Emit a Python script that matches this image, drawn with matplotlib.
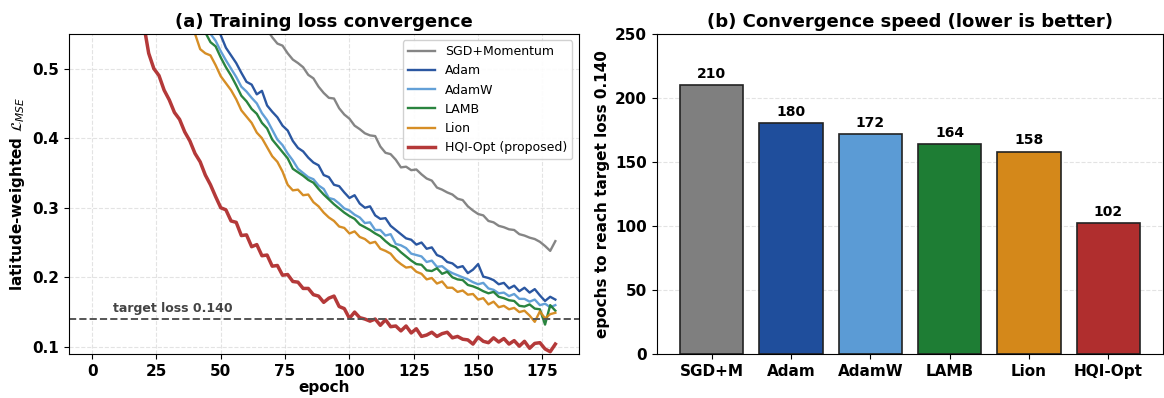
import numpy as np
import matplotlib
matplotlib.use("Agg")
import matplotlib.pyplot as plt

# ---- data -------------------------------------------------------------
epochs = np.arange(0, 181, 2)

sgd_loss = [1.30, 1.27, 1.24, 1.21, 1.18, 1.15, 1.12, 1.09, 1.06, 1.03,
            1.00, 0.975, 0.95, 0.925, 0.90, 0.875, 0.85, 0.83, 0.81, 0.79,
            0.77, 0.75, 0.73, 0.71, 0.69, 0.675, 0.66, 0.645, 0.63, 0.615,
            0.60, 0.590, 0.580, 0.566, 0.556, 0.545, 0.536, 0.533, 0.522, 0.513,
            0.508, 0.502, 0.491, 0.486, 0.474, 0.465, 0.458, 0.457, 0.443, 0.434,
            0.428, 0.418, 0.413, 0.407, 0.404, 0.403, 0.388, 0.379, 0.377, 0.369,
            0.358, 0.359, 0.354, 0.355, 0.348, 0.342, 0.339, 0.329, 0.326, 0.322,
            0.319, 0.313, 0.311, 0.302, 0.296, 0.291, 0.289, 0.281, 0.279, 0.274,
            0.272, 0.269, 0.268, 0.262, 0.260, 0.257, 0.255, 0.251, 0.245, 0.238,
            0.252]

adam_loss = [1.18, 1.14, 1.10, 1.06, 1.02, 0.99, 0.96, 0.93, 0.90, 0.87,
             0.845, 0.82, 0.795, 0.77, 0.745, 0.725, 0.705, 0.685, 0.665, 0.645,
             0.632, 0.616, 0.601, 0.586, 0.562, 0.548, 0.530, 0.519, 0.508, 0.494,
             0.481, 0.477, 0.463, 0.468, 0.447, 0.438, 0.430, 0.418, 0.411, 0.396,
             0.386, 0.381, 0.372, 0.365, 0.361, 0.347, 0.344, 0.333, 0.331, 0.322,
             0.314, 0.318, 0.306, 0.300, 0.302, 0.289, 0.284, 0.285, 0.274, 0.268,
             0.262, 0.256, 0.254, 0.247, 0.250, 0.241, 0.243, 0.232, 0.229, 0.222,
             0.220, 0.214, 0.216, 0.206, 0.211, 0.219, 0.201, 0.199, 0.196, 0.190,
             0.192, 0.184, 0.188, 0.180, 0.185, 0.178, 0.183, 0.174, 0.166, 0.172,
             0.168]

adamw_loss = [1.15, 1.11, 1.07, 1.03, 0.995, 0.96, 0.93, 0.90, 0.87, 0.84,
              0.815, 0.79, 0.765, 0.74, 0.715, 0.695, 0.675, 0.655, 0.635, 0.615,
              0.598, 0.583, 0.570, 0.550, 0.540, 0.525, 0.512, 0.500, 0.488, 0.474,
              0.467, 0.458, 0.450, 0.436, 0.426, 0.412, 0.398, 0.390, 0.378, 0.368,
              0.356, 0.350, 0.344, 0.341, 0.332, 0.327, 0.314, 0.312, 0.306, 0.299,
              0.296, 0.290, 0.286, 0.278, 0.279, 0.268, 0.268, 0.260, 0.262, 0.248,
              0.246, 0.242, 0.234, 0.232, 0.230, 0.222, 0.224, 0.215, 0.216, 0.210,
              0.206, 0.203, 0.200, 0.197, 0.193, 0.190, 0.192, 0.184, 0.182, 0.177,
              0.178, 0.173, 0.176, 0.169, 0.169, 0.165, 0.168, 0.160, 0.162, 0.157,
              0.160]

lamb_loss = [1.12, 1.08, 1.04, 1.00, 0.965, 0.93, 0.90, 0.87, 0.84, 0.81,
             0.785, 0.76, 0.735, 0.71, 0.685, 0.665, 0.645, 0.625, 0.605, 0.59,
             0.575, 0.562, 0.552, 0.538, 0.532, 0.516, 0.502, 0.490, 0.476, 0.461,
             0.453, 0.442, 0.435, 0.422, 0.414, 0.398, 0.389, 0.380, 0.371, 0.356,
             0.351, 0.346, 0.340, 0.336, 0.327, 0.319, 0.312, 0.305, 0.299, 0.293,
             0.288, 0.284, 0.276, 0.272, 0.268, 0.263, 0.259, 0.252, 0.246, 0.243,
             0.236, 0.230, 0.224, 0.219, 0.218, 0.210, 0.209, 0.213, 0.205, 0.208,
             0.200, 0.197, 0.196, 0.189, 0.187, 0.184, 0.180, 0.177, 0.179, 0.172,
             0.170, 0.167, 0.166, 0.159, 0.158, 0.161, 0.155, 0.154, 0.132, 0.160,
             0.152]

lion_loss = [1.10, 1.06, 1.02, 0.98, 0.94, 0.91, 0.88, 0.85, 0.82, 0.79,
             0.76, 0.735, 0.71, 0.685, 0.66, 0.64, 0.62, 0.60, 0.58, 0.565,
             0.550, 0.528, 0.522, 0.519, 0.505, 0.489, 0.479, 0.469, 0.456, 0.440,
             0.431, 0.422, 0.408, 0.400, 0.387, 0.374, 0.366, 0.352, 0.333, 0.325,
             0.326, 0.318, 0.319, 0.308, 0.302, 0.293, 0.286, 0.281, 0.273, 0.271,
             0.263, 0.266, 0.258, 0.255, 0.249, 0.251, 0.241, 0.238, 0.234, 0.225,
             0.219, 0.214, 0.215, 0.208, 0.205, 0.197, 0.199, 0.191, 0.194, 0.185,
             0.185, 0.179, 0.181, 0.175, 0.176, 0.168, 0.170, 0.161, 0.165, 0.157,
             0.159, 0.154, 0.156, 0.150, 0.152, 0.145, 0.136, 0.151, 0.141, 0.147,
             0.149]

hqi_loss = [0.95, 0.90, 0.86, 0.82, 0.78, 0.745, 0.71, 0.675, 0.64, 0.60,
            0.565, 0.522, 0.500, 0.490, 0.469, 0.455, 0.437, 0.427, 0.409, 0.396,
            0.378, 0.366, 0.347, 0.333, 0.316, 0.300, 0.297, 0.281, 0.279, 0.260,
            0.261, 0.244, 0.247, 0.231, 0.232, 0.216, 0.217, 0.203, 0.204, 0.194,
            0.193, 0.184, 0.184, 0.175, 0.173, 0.164, 0.170, 0.173, 0.158, 0.155,
            0.141, 0.150, 0.142, 0.140, 0.137, 0.140, 0.131, 0.139, 0.129, 0.130,
            0.123, 0.130, 0.120, 0.126, 0.115, 0.117, 0.121, 0.115, 0.119, 0.121,
            0.113, 0.115, 0.111, 0.110, 0.104, 0.114, 0.108, 0.106, 0.113, 0.107,
            0.112, 0.104, 0.109, 0.101, 0.108, 0.098, 0.105, 0.106, 0.097, 0.093,
            0.104]

line_labels = ["SGD+Momentum", "Adam", "AdamW", "LAMB", "Lion", "HQI-Opt (proposed)"]
bar_labels = ["SGD+M", "Adam", "AdamW", "LAMB", "Lion", "HQI-Opt"]
epochs_to_target = [210, 180, 172, 164, 158, 102]
target_loss = 0.140

colors = ["#7f7f7f", "#1f4e9c", "#5b9bd5", "#1e7d34", "#d4881a", "#b02e2e"]

# ---- figure -----------------------------------------------------------
fig = plt.figure(figsize=(11.64, 3.98), dpi=100)
ax1 = fig.add_axes([0.0592, 0.111, 0.4378, 0.804])
ax2 = fig.add_axes([0.5644, 0.111, 0.4347, 0.804])

# (a) loss curves
all_losses = [sgd_loss, adam_loss, adamw_loss, lamb_loss, lion_loss, hqi_loss]
for i, loss in enumerate(all_losses):
    lw = 2.5 if i == 5 else 1.7
    ax1.plot(epochs, loss, color=colors[i], lw=lw, label=line_labels[i], alpha=0.95)

ax1.axhline(target_loss, color="#555555", ls="--", lw=1.4)
ax1.text(8, target_loss + 0.006, "target loss 0.140", fontsize=9, fontweight="bold",
         color="#444444", va="bottom", ha="left")

ax1.set_xlim(-9, 189)
ax1.set_ylim(0.09, 0.55)
ax1.set_xticks(np.arange(0, 176, 25))
ax1.set_yticks([0.1, 0.2, 0.3, 0.4, 0.5])
ax1.grid(True, ls="--", lw=0.8, alpha=0.35)
ax1.set_xlabel("epoch", fontsize=11, fontweight="bold", labelpad=1)
ax1.set_ylabel(r"latitude-weighted $\mathcal{L}_{MSE}$", fontsize=11, fontweight="bold")
ax1.set_title("(a) Training loss convergence", fontsize=13, fontweight="bold", pad=5)
ax1.legend(loc="upper right", fontsize=9, framealpha=0.9, handlelength=2.2)
ax1.tick_params(labelsize=11)
plt.setp(ax1.get_xticklabels() + ax1.get_yticklabels(), fontweight="bold")

# (b) bars
xpos = np.arange(len(bar_labels))
bars = ax2.bar(xpos, epochs_to_target, width=0.8, color=colors,
               edgecolor="#222222", linewidth=1.2)
for b, v in zip(bars, epochs_to_target):
    ax2.annotate(str(v), (b.get_x() + b.get_width() / 2, v), xytext=(0, 3),
                 textcoords="offset points", ha="center", va="bottom",
                 fontsize=10, fontweight="bold")
ax2.set_xticks(xpos)
ax2.set_xticklabels(bar_labels)
ax2.set_ylim(0, 250)
ax2.set_xlim(-0.69, 5.69)
ax2.yaxis.grid(True, ls="--", lw=0.8, alpha=0.35)
ax2.set_axisbelow(True)
ax2.set_ylabel("epochs to reach target loss 0.140", fontsize=11, fontweight="bold")
ax2.set_title("(b) Convergence speed (lower is better)", fontsize=13, fontweight="bold", pad=5)
ax2.tick_params(labelsize=11)
plt.setp(ax2.get_xticklabels() + ax2.get_yticklabels(), fontweight="bold")

fig.savefig("out.png", dpi=100)
